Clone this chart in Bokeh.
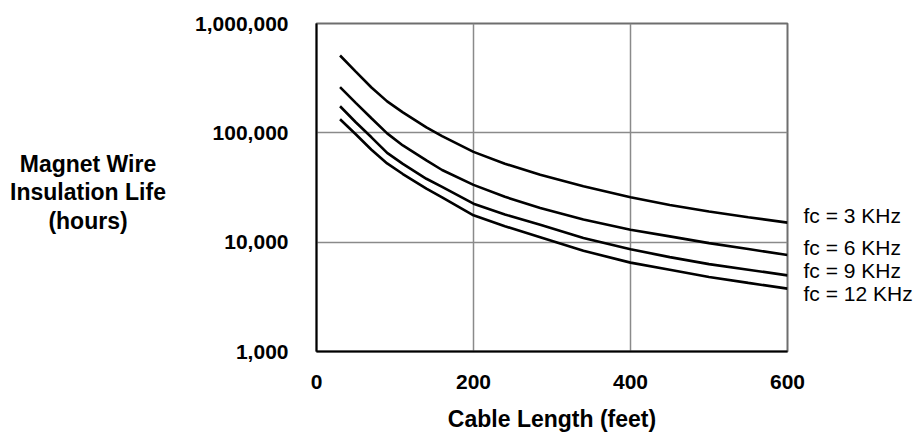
from bokeh.plotting import figure
from bokeh.layouts import row
from bokeh.models import Range1d, FixedTicker, NumeralTickFormatter, LogAxis, Label
from bokeh.embed import file_html
from bokeh.resources import INLINE

# Insulation life vs. cable length for four carrier frequencies
cable_length_ft = [30, 50, 70, 90, 110, 140, 160, 200, 240, 285, 340, 400, 450, 500, 550, 600]
life_3khz = [510000, 363000, 260000, 194000, 154000, 112000, 93300, 67000, 52200, 41300,
             32400, 25800, 21900, 19100, 16900, 15100]
life_6khz = [262000, 188000, 136000, 98900, 76700, 56000, 45700, 33400, 26000, 20500,
             16100, 13000, 11300, 9800, 8650, 7630]
life_9khz = [175000, 125000, 91000, 65500, 52000, 38000, 32000, 22500, 17900, 14400,
             10900, 8600, 7300, 6300, 5600, 4970]
life_12khz = [133000, 97000, 70000, 52500, 42000, 30900, 25700, 17600, 14000, 11100,
              8350, 6500, 5600, 4800, 4240, 3760]

series_values = [life_3khz, life_6khz, life_9khz, life_12khz]
series_labels = ["fc = 3 KHz", "fc = 6 KHz", "fc = 9 KHz", "fc = 12 KHz"]
# heights (in hours) where each curve's name is written beside the right edge
label_anchor_hours = [17600, 8980, 5550, 3380]
x_ticks = [0, 200, 400, 600]
y_ticks = [1000, 10000, 100000, 1000000]
y_title = "Magnet Wire\nInsulation Life\n(hours)"
x_title = "Cable Length (feet)"

FONT = "Liberation Sans"
TOTAL_W, TOTAL_H = 918, 434
TITLE_W = 180

# narrow panel on the left that carries the centred y-axis title
title_fig = figure(width=TITLE_W, height=TOTAL_H, x_range=Range1d(0, 1), y_range=Range1d(0, 1),
                   x_axis_location=None, y_axis_location=None,
                   output_backend="svg", toolbar_location=None, min_border=0)
title_fig.outline_line_color = None
title_fig.grid.visible = False
title_fig.add_layout(Label(x=87.5, y=159, x_units="screen", y_units="screen",
                           text=y_title, text_font=FONT, text_font_size="23px",
                           text_font_style="bold", text_color="black",
                           text_line_height=1.1,
                           text_align="center", text_baseline="middle"))

p = figure(width=TOTAL_W - TITLE_W, height=TOTAL_H,
           x_range=Range1d(0, 600), y_range=Range1d(1000, 1000000),
           y_axis_type="log",
           output_backend="svg", toolbar_location=None,
           min_border_left=316 - TITLE_W, min_border_right=131,
           min_border_top=23, min_border_bottom=82)

p.background_fill_color = "white"
p.border_fill_color = "white"
p.outline_line_color = "#6e6e6e"
p.outline_line_width = 2

# axes
p.xaxis.ticker = FixedTicker(ticks=x_ticks)
p.yaxis.ticker = FixedTicker(ticks=y_ticks)
p.yaxis.formatter = NumeralTickFormatter(format="0,0")
for ax in (p.xaxis[0], p.yaxis[0]):
    ax.axis_line_color = "black"
    ax.axis_line_width = 2
    ax.major_tick_line_color = None
    ax.minor_tick_line_color = None
    ax.major_tick_out = 0
    ax.major_tick_in = 0
    ax.minor_tick_out = 0
    ax.minor_tick_in = 0
    ax.major_label_text_font = FONT
    ax.major_label_text_font_style = "bold"
    ax.major_label_text_font_size = "21px"
    ax.major_label_text_color = "black"
p.xaxis.major_label_standoff = 23
p.yaxis.major_label_standoff = 28

p.xaxis.axis_label = x_title
p.xaxis.axis_label_standoff = 14
p.xaxis.axis_label_text_font = FONT
p.xaxis.axis_label_text_font_style = "bold"
p.xaxis.axis_label_text_font_size = "23px"
p.xaxis.axis_label_text_color = "black"

# curve names on the right side
names_axis = LogAxis(ticker=FixedTicker(ticks=label_anchor_hours),
                     major_label_overrides={v: t for v, t in zip(label_anchor_hours, series_labels)},
                     axis_line_color=None, major_tick_line_color=None, minor_tick_line_color=None,
                     major_tick_out=0, major_tick_in=0, minor_tick_out=0, minor_tick_in=0,
                     major_label_standoff=16,
                     major_label_text_font=FONT, major_label_text_font_size="21px",
                     major_label_text_color="black")
p.add_layout(names_axis, "right")

# grid
p.xgrid.grid_line_color = "#8a8a8a"
p.ygrid.grid_line_color = "#8a8a8a"
p.xgrid.grid_line_width = 1.5
p.ygrid.grid_line_width = 1.5
p.ygrid.minor_grid_line_color = None

# curves
for vals in series_values:
    p.line(cable_length_ft, vals, line_color="black", line_width=2.6)

layout = row(title_fig, p, spacing=0)
open("out.html", "w").write(file_html(layout, INLINE))
